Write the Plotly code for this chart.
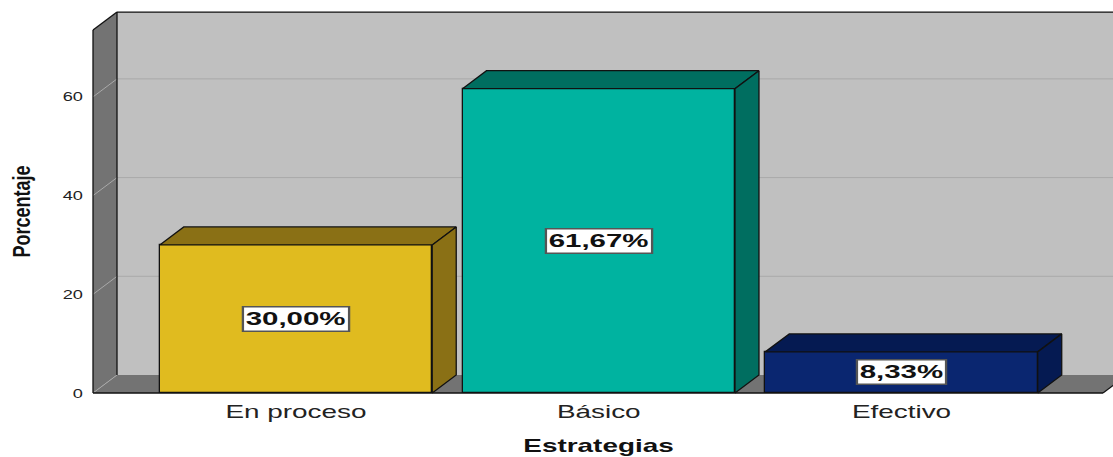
import plotly.graph_objects as go

# Data
categorias = ["En proceso", "Básico", "Efectivo"]
porcentajes = [30.00, 61.67, 8.33]
ticks_y = [0, 20, 40, 60]

color_frente = ["#e0bb1f", "#00b3a0", "#0a2670"]
color_lado = ["#8a7015", "#006e60", "#051a52"]

# Pseudo-3D box geometry, in axis units
PX_X, PX_Y = 302.75, 4.935          # pixels per axis unit
X_MIN = -0.6705                      # front-left edge of the box
DX, DY = 24 / PX_X, 18 / PX_Y        # depth offset of the back plane
Y_FRONT_TOP = 73.55
Y_BACK_TOP = Y_FRONT_TOP + DY
FLOOR_END = 2.6656
ANCHO = 0.9
FAR = 4.0

x_range = [X_MIN - 3 / PX_X, X_MIN - 3 / PX_X + 1023 / PX_X]
y_range = [-3 / PX_Y, -3 / PX_Y + 386 / PX_Y]

WALL = "#c0c0c0"
SIDE = "#737373"
GRID = "#a9a9a9"

fig = go.Figure()

shapes = []
# back wall
shapes.append(dict(type="rect", xref="x", yref="y", layer="below",
                   x0=X_MIN + DX, x1=FAR, y0=DY, y1=Y_BACK_TOP,
                   fillcolor=WALL, line=dict(width=0)))
# floor
shapes.append(dict(type="path", xref="x", yref="y", layer="below",
                   path=f"M {X_MIN},0 L {FLOOR_END},0 L {FLOOR_END + DX},{DY} "
                        f"L {FAR},{DY} L {FAR},{DY} L {X_MIN + DX},{DY} Z",
                   fillcolor=SIDE, line=dict(width=0)))
# left wall
shapes.append(dict(type="path", xref="x", yref="y", layer="below",
                   path=f"M {X_MIN},0 L {X_MIN},{Y_FRONT_TOP} L {X_MIN + DX},{Y_BACK_TOP} "
                        f"L {X_MIN + DX},{DY} Z",
                   fillcolor=SIDE, line=dict(width=0)))
# grid lines on the back wall and the left wall
for v in ticks_y:
    if v > 0:
        shapes.append(dict(type="line", xref="x", yref="y", layer="below",
                           x0=X_MIN + DX, x1=FAR, y0=v + DY, y1=v + DY,
                           line=dict(color=GRID, width=1)))
    shapes.append(dict(type="line", xref="x", yref="y", layer="below",
                       x0=X_MIN, x1=X_MIN + DX, y0=v, y1=v + DY,
                       line=dict(color=GRID, width=1)))
# box edges
edge = dict(color="#111111", width=1.3)
for (xa, ya, xb, yb) in [
    (X_MIN, 0, X_MIN, Y_FRONT_TOP),
    (X_MIN, Y_FRONT_TOP, X_MIN + DX, Y_BACK_TOP),
    (X_MIN + DX, DY, X_MIN + DX, Y_BACK_TOP),
    (X_MIN + DX, Y_BACK_TOP, FAR, Y_BACK_TOP),
    (X_MIN, 0, FLOOR_END, 0),
    (FLOOR_END, 0, FLOOR_END + DX, DY),
]:
    shapes.append(dict(type="line", xref="x", yref="y", layer="below",
                       x0=xa, y0=ya, x1=xb, y1=yb, line=edge))

# front faces of the bars
pos = list(range(len(categorias)))
fig.add_trace(go.Bar(
    x=pos, y=porcentajes, width=ANCHO,
    marker=dict(color=color_frente, line=dict(color="#111111", width=1.3)),
    hoverinfo="skip", showlegend=False,
))

# top and right faces of the bars
for i, v in zip(pos, porcentajes):
    xl, xr = i - ANCHO / 2, i + ANCHO / 2
    top_x = [xl, xr, xr + DX, xl + DX, xl]
    top_y = [v, v, v + DY, v + DY, v]
    side_x = [xr, xr, xr + DX, xr + DX, xr]
    side_y = [0, v, v + DY, DY, 0]
    for px, py in ((top_x, top_y), (side_x, side_y)):
        fig.add_trace(go.Scatter(
            x=px, y=py, mode="lines", fill="toself",
            fillcolor=color_lado[i], line=dict(color="#111111", width=1.3),
            hoverinfo="skip", showlegend=False,
        ))

FONT = "Liberation Sans, Arial, sans-serif"
annotations = []
for i, v in zip(pos, porcentajes):
    annotations.append(dict(
        x=i, y=v / 2, xref="x", yref="y", showarrow=False,
        text="<b>" + f"{v:.2f}%".replace(".", ",") + "</b>",
        font=dict(family=FONT, size=19, color="#111111"),
        bgcolor="white", bordercolor="#555555", borderwidth=1.5, borderpad=1,
    ))
annotations.append(dict(
    x=(598 - 90) / 1023, y=-50 / 386, xref="paper", yref="paper",
    showarrow=False, yanchor="middle", xanchor="center",
    text="<b>Estrategias</b>",
    font=dict(family=FONT, size=18, color="#111111"),
))
annotations.append(dict(
    x=-68 / 1023, y=(Y_FRONT_TOP / 2 - y_range[0]) / (y_range[1] - y_range[0]),
    xref="paper", yref="paper", showarrow=False, textangle=-90,
    xanchor="center", yanchor="middle",
    text="<b>Porcentaje</b>",
    font=dict(family=FONT, size=18, color="#111111"),
))

fig.update_layout(
    width=1113, height=457,
    margin=dict(l=90, r=0, t=10, b=61),
    paper_bgcolor="white", plot_bgcolor="white",
    shapes=shapes, annotations=annotations,
    bargap=0,
    xaxis=dict(range=x_range, tickvals=pos, ticktext=categorias,
               showgrid=False, zeroline=False, showline=False, ticks="",
               ticklabelstandoff=3,
               tickfont=dict(family=FONT, size=18, color="#222222"),
               fixedrange=True),
    yaxis=dict(range=y_range, tickvals=ticks_y,
               showgrid=False, zeroline=False, showline=False, ticks="",
               ticklabelstandoff=6,
               tickfont=dict(family=FONT, size=13, color="#222222"),
               fixedrange=True),
)

# Widen the text horizontally, SPSS style
post = """
var gd = document.getElementById('{plot_id}');
function stretch(el, k, mode){
  var b = el.getBBox();
  var cx = mode === 'end' ? b.x + b.width : b.x + b.width / 2;
  var t = el.getAttribute('transform') || '';
  el.setAttribute('transform', t + ' translate(' + cx + ',0) scale(' + k + ',1) translate(' + (-cx) + ',0)');
}
function thicken(el, k){
  var b = el.getBBox();
  var cy = b.y + b.height / 2;
  var t = el.getAttribute('transform') || '';
  el.setAttribute('transform', t + ' translate(0,' + cy + ') scale(1,' + k + ') translate(0,' + (-cy) + ')');
}
gd.querySelectorAll('.xtick text').forEach(function(e){ stretch(e, 1.55, 'mid'); });
gd.querySelectorAll('.ytick text').forEach(function(e){ stretch(e, 1.4, 'end'); });
gd.querySelectorAll('.annotation-text-g').forEach(function(e){
  if (e.textContent.indexOf('Porcentaje') < 0) { stretch(e, 1.55, 'mid'); }
  else { thicken(e, 1.3); }
});
"""

fig.write_html("out.html", post_script=post, config={"displayModeBar": False})
